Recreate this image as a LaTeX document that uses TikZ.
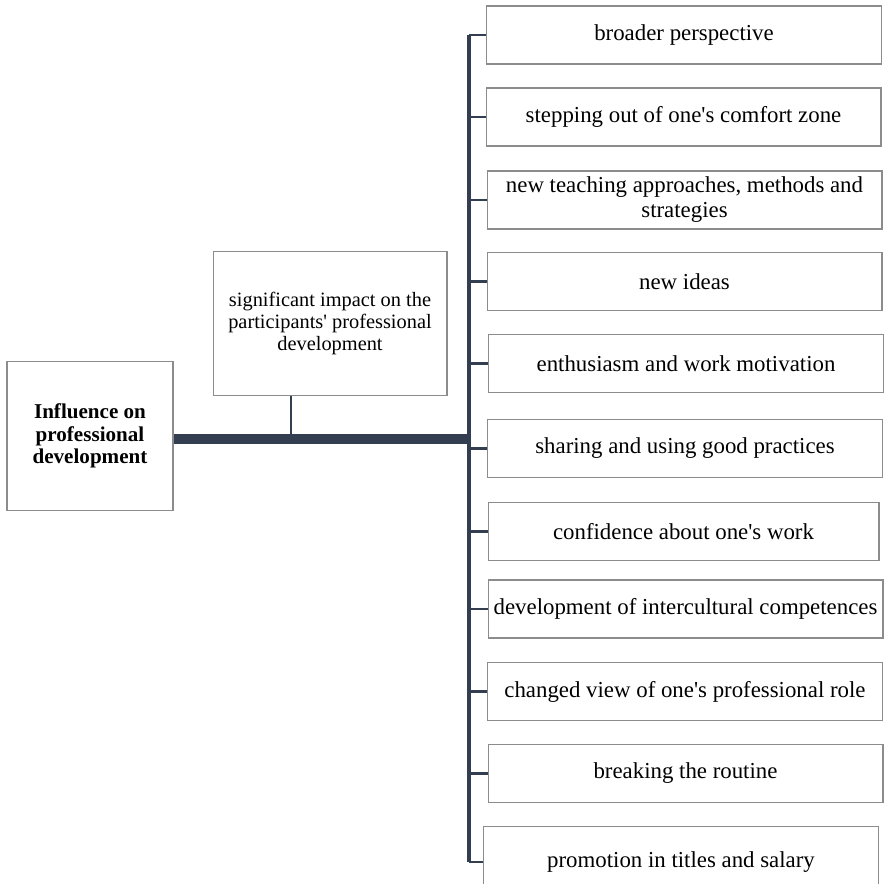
\documentclass[tikz,border=0pt]{standalone}
\usepackage{fontspec}
\setmainfont{Liberation Serif}
\definecolor{spinecol}{RGB}{51,63,80}
\definecolor{boxcol}{RGB}{140,140,140}
\newcommand{\apos}{\textquotesingle}

\begin{document}
\begin{tikzpicture}[x=0.02cm, y=-0.02cm]
    \useasboundingbox (0,0) rectangle (884,883);
    \begin{scope}[every node/.style={draw=boxcol, line width=0.6pt, align=center, inner sep=1pt, minimum width=7.9cm, minimum height=1.16cm, font=\fontsize{13}{14.2}\selectfont}]
                        \node (root) at (90,436) [minimum width=3.32cm, minimum height=2.98cm, font=\fontsize{12}{12.8}\selectfont\bfseries] {Influence on\\professional\\development};
                        \node (impact) at (330,323.5) [minimum width=4.68cm, minimum height=2.88cm, font=\fontsize{11.6}{12.3}\selectfont] {significant impact on the\\participants\apos{} professional\\development};
                        \node (broad) at (684,35) {broader perspective};
                        \node (comfort) at (683.5,117) {stepping out of one\apos{}s comfort zone};
                        \node (teach) at (684.5,200) {new teaching approaches, methods and\\strategies};
                        \node (ideas) at (684.5,281.5) {new ideas};
                        \node (enth) at (686,363.5) {enthusiasm and work motivation};
                        \node (share) at (685,448.5) {sharing and using good practices};
                        \node (conf) at (683.5,531.5) [minimum width=7.82cm] {confidence about one\apos{}s work};
                        \node (intc) at (685.5,609) {development of intercultural competences};
                        \node (role) at (685,691.5) {changed view of one\apos{}s professional role};
                        \node (routine) at (685.5,773.5) {breaking the routine};
                        \node (promo) at (681,862) [minimum height=1.44cm] {promotion in titles and salary};
                \end{scope}

                \coordinate (hub) at (469,439);
                \coordinate (tap) at (291,439);

                \begin{scope}[every path/.style={draw=spinecol, line width=1.5pt}]
                        \path (root.east |- hub) edge [line width=5.7pt] (hub);
                        \path (impact.south -| tap) edge (tap);
                        \path (broad.west -| hub) edge [line width=2.3pt] (promo.west -| hub);
                        \foreach \n in {broad,comfort,teach,ideas,enth,share,conf,intc,role,routine,promo}
                                \path (\n.west -| hub) edge (\n.west);
               \end{scope}
\end{tikzpicture}
\end{document}
